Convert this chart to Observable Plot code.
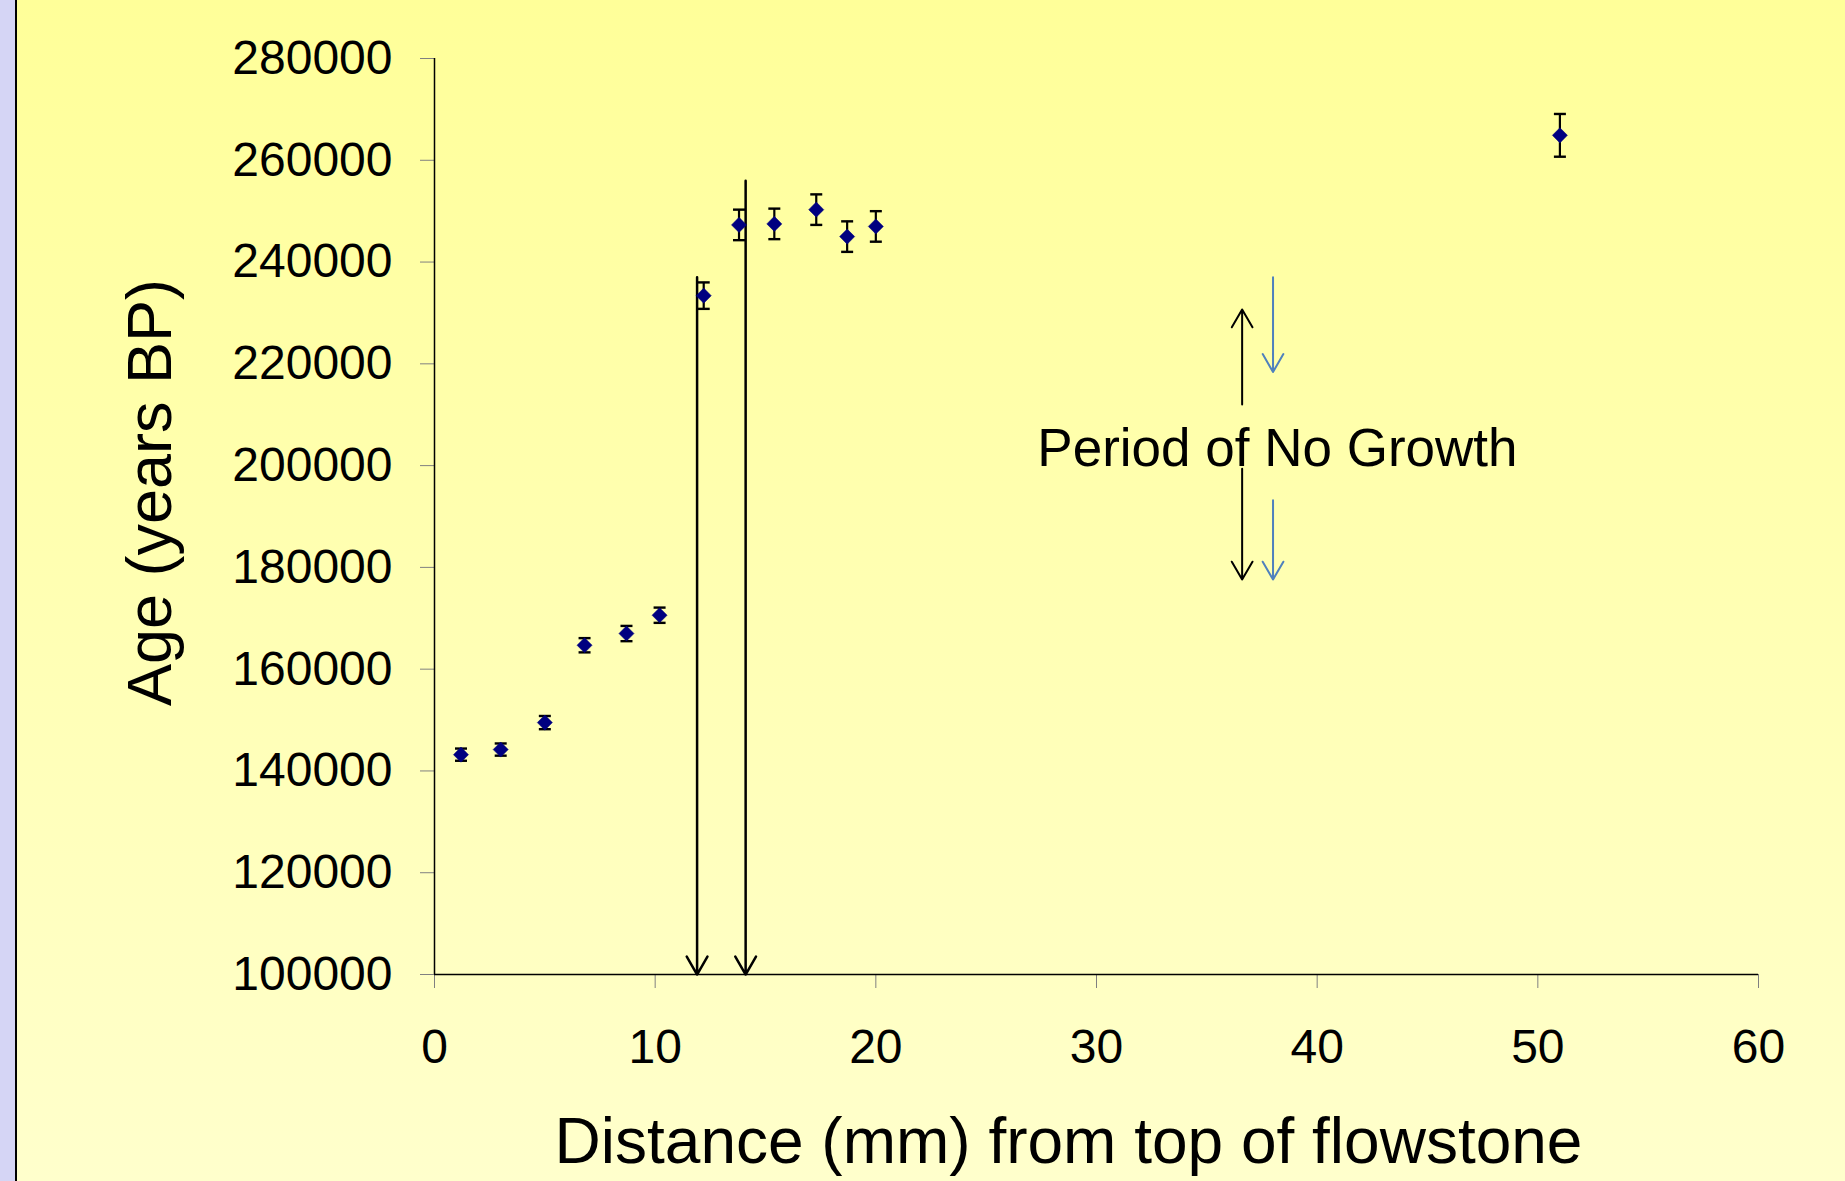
<!DOCTYPE html>
<html><head><meta charset="utf-8">
<script src="https://cdn.jsdelivr.net/npm/d3@7"></script>
<script src="https://cdn.jsdelivr.net/npm/@observablehq/plot@0.6"></script>
<style>
html,body{margin:0;padding:0;}
#wrap{position:relative;width:1845px;height:1181px;overflow:hidden;background:linear-gradient(to bottom,#FFFF99,#FFFFCC);font-family:"Liberation Sans",Arial,sans-serif;}
#strip{position:absolute;left:0;top:0;width:15px;height:100%;background:#D5D5F5;border-right:2px solid #000;}
#chart{position:absolute;left:0;top:0;}
</style></head><body>
<div id="wrap"><div id="strip"></div><div id="chart"></div></div>
<script>
// Data
const distance = [1.2, 3.0, 5.0, 6.8, 8.7, 10.2, 12.2, 13.8, 15.4, 17.3, 18.7, 20.0, 51.0];
const age      = [143200, 144200, 149500, 164700, 167000, 170600, 233400, 247300, 247500, 250300, 245000, 247000, 264900];
const ageError = [1200, 1200, 1300, 1400, 1500, 1500, 2600, 3000, 3000, 3000, 3000, 3000, 4200];

const xTicks = [0, 10, 20, 30, 40, 50, 60];
const yTicks = [100000, 120000, 140000, 160000, 180000, 200000, 220000, 240000, 260000, 280000];

// Hiatus arrows (distance, top age, bottom age)
const hiatusX      = [11.9, 14.1];
const hiatusTop    = [237000, 256000];
const hiatusBottom = [100000, 100000];

// Annotation arrows
const annArrowX     = [36.6, 38.0, 36.6, 38.0];
const annArrowFrom  = [212000, 237000, 199400, 193200];
const annArrowTo    = [230700, 218400, 177600, 177600];
const annArrowColor = ["black", "#4F81BD", "black", "#4F81BD"];

const annText = ["Period of No Growth"];
const annTextX = [38.2];
const annTextY = [203200];

const xLabel = "Distance (mm) from top of flowstone";
const yLabel = "Age (years BP)";

const points = distance.map((d, i) => ({d, age: age[i], err: ageError[i]}));
const caps = points.flatMap(p => [{d: p.d, y: p.age - p.err}, {d: p.d, y: p.age + p.err}]);
const hiatus = hiatusX.map((x, i) => ({x, top: hiatusTop[i], bottom: hiatusBottom[i]}));
const annArrows = annArrowX.map((x, i) => ({x, y1: annArrowFrom[i], y2: annArrowTo[i], c: annArrowColor[i]}));
const annotations = annText.map((t, i) => ({t, x: annTextX[i], y: annTextY[i]}));

const capSymbol = {draw(ctx) { ctx.moveTo(-6, 0); ctx.lineTo(6, 0); }};

const chart = Plot.plot({
  width: 1845,
  height: 1181,
  marginLeft: 434,
  marginRight: 87,
  marginTop: 58,
  marginBottom: 207,
  style: {background: "transparent", fontFamily: "'Liberation Sans', Arial, sans-serif", color: "black", overflow: "visible"},
  x: {domain: [xTicks[0], xTicks[xTicks.length - 1]]},
  y: {domain: [yTicks[0], yTicks[yTicks.length - 1]]},
  color: {type: "identity"},
  marks: [
    Plot.axisY({ticks: yTicks, tickSize: 14, tickPadding: 28, stroke: "#808080", fill: "black", fontSize: 48, tickFormat: d => String(d), label: null}),
    Plot.axisX({ticks: xTicks, tickSize: 14, tickPadding: 40, stroke: "#808080", fill: "black", fontSize: 48, tickFormat: d => String(d), label: null}),
    Plot.ruleX([xTicks[0]], {y1: yTicks[0], y2: yTicks[yTicks.length - 1], stroke: "black", strokeWidth: 1.5}),
    Plot.ruleY([yTicks[0]], {x1: xTicks[0], x2: xTicks[xTicks.length - 1], stroke: "black", strokeWidth: 1.5}),
    Plot.arrow(hiatus, {x1: "x", x2: "x", y1: "top", y2: "bottom", stroke: "black", strokeWidth: 2.5, headLength: 12.4, headAngle: 60}),
    Plot.ruleX(points, {x: "d", y1: p => p.age - p.err, y2: p => p.age + p.err, stroke: "black", strokeWidth: 2.2}),
    Plot.dot(caps, {x: "d", y: "y", symbol: capSymbol, r: 5, fill: "none", stroke: "black", strokeWidth: 2.4}),
    Plot.dot(points, {x: "d", y: "age", symbol: "diamond2", r: 6.8, fill: "#000080", stroke: "#000080", strokeWidth: 0.5}),
    Plot.arrow(annArrows, {x1: "x", x2: "x", y1: "y1", y2: "y2", stroke: "c", strokeWidth: 2, headLength: 15.5, headAngle: 60}),
    Plot.text(annotations, {x: "x", y: "y", text: "t", fontSize: 53, textAnchor: "middle", lineAnchor: "middle", fill: "black"}),
    Plot.text([xLabel], {text: d => d, frameAnchor: "bottom", dx: -28, dy: 168, fontSize: 64, textAnchor: "middle", lineAnchor: "middle", fill: "black"}),
    Plot.text([yLabel], {text: d => d, frameAnchor: "left", dx: -284, dy: -24, rotate: -90, fontSize: 63, textAnchor: "middle", lineAnchor: "middle", fill: "black"})
  ]
});
document.getElementById("chart").appendChild(chart);
</script>
</body></html>
